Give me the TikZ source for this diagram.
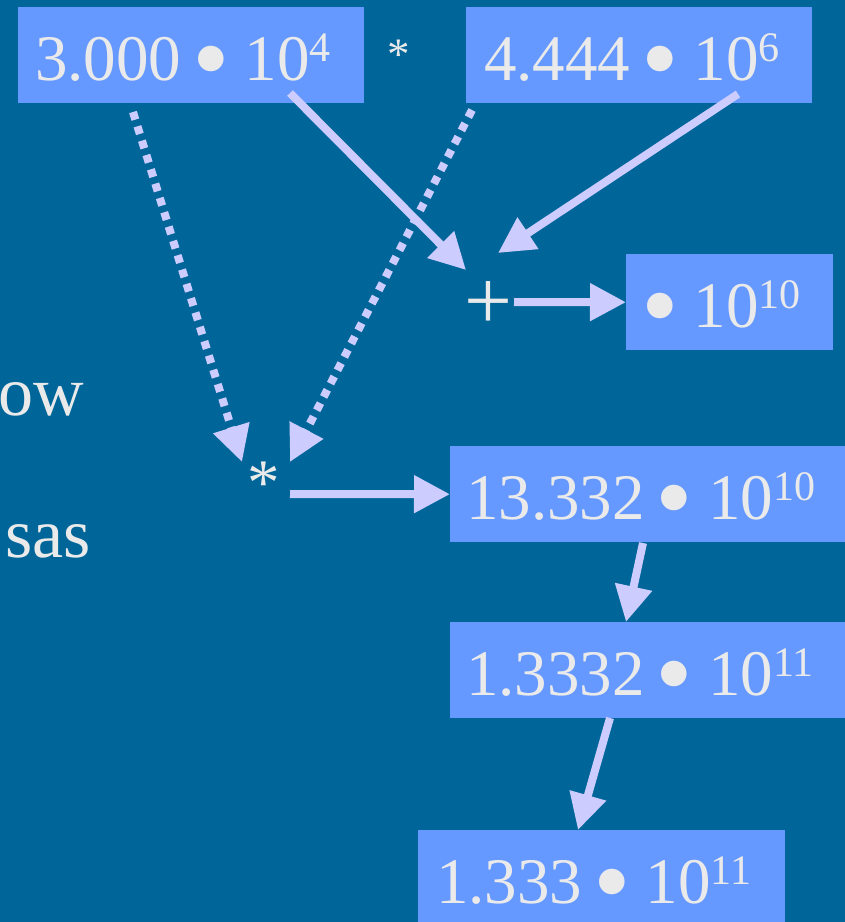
\documentclass[tikz,border=0pt]{standalone}
\usepackage{fontspec}
\setmainfont{Liberation Serif}
\usepackage{graphicx}
\usetikzlibrary{arrows.meta,calc}
\setlength{\parindent}{0pt}
\definecolor{bgc}{HTML}{006699}
\definecolor{boxc}{HTML}{6699FF}
\definecolor{txtc}{HTML}{EAEAEA}
\definecolor{arrc}{HTML}{CCCCFF}
\newcommand\bul{\makebox[59.5pt]{\raisebox{-0.22em}{\scalebox{1.65}{•}}}\hspace{4pt}}
\newcommand\sups[1]{\raisebox{19pt}{\fontsize{42}{42}\selectfont #1}}
\begin{document}
\begin{tikzpicture}[x=1pt,y=-1pt,
  numbox/.style={fill=boxc, anchor=north west, inner xsep=#1, inner ysep=0pt,
    text height=73pt, text depth=23pt, align=left,
    font=\fontsize{65}{78}\selectfont, text=txtc},
  sym/.style={anchor=base, inner sep=0pt, text=txtc, font=\fontsize{65}{78}\selectfont},
  side/.style={anchor=base east, inner sep=0pt, text=txtc, font=\fontsize{70}{84}\selectfont},
  arr/.style={draw=arrc, line width=8pt, -{Triangle[length=36pt,width=36pt]}},
  dotarr/.style={arr, dash pattern=on 8pt off 7pt}]
\useasboundingbox (0,0) rectangle (845,922);
\clip (0,0) rectangle (845,922);
\fill[bgc] (0,0) rectangle (845,922);
% side text
\node[side] (ow) at (84,415) {ow};
\node[side] (sas) at (91,557) {sas};
% number boxes
\node[numbox=17pt, text width=312pt] (A) at (18,7) {3.000\bul10\sups{4}};
\node[numbox=18pt, text width=310pt] (B) at (466,7) {4.444\bul10\sups{6}};
\node[numbox=4pt, text width=199pt] (C) at (626,254) {\bul10\sups{10}};
\node[numbox=16pt, text width=388pt] (D) at (450,446) {13.332\bul10\sups{10}};
\node[numbox=16pt, text width=388pt] (E) at (450,622) {1.3332\bul10\sups{11}};
\node[numbox=18pt, text width=331pt, text depth=19pt] (F) at (418,830) {1.333\bul10\sups{11}};
% operators
\node[sym, font=\fontsize{45}{54}\selectfont] (times1) at (399,69) {*};
\node[sym, font=\fontsize{85}{100}\selectfont] (plus) at (488,329) {+};
\node[sym] (times2) at (264,504) {*};
% connector end points
\coordinate (aS) at (290,93);
\coordinate (bS) at (738,94);
\coordinate (plusA) at (466,270);
\coordinate (plusB) at (498,253);
\coordinate (plusR) at (514,302);
\coordinate (aD) at (133,112);
\coordinate (bD) at (472,110);
\coordinate (starA) at (242,462);
\coordinate (starB) at (290,462);
\coordinate (starR) at (290,494);
\coordinate (dS) at (643,543);
\coordinate (eN) at (626,622);
\coordinate (eS) at (610,718);
\coordinate (fN) at (578,830);
% connectors
\draw[arr] (aS) -- (plusA);
\draw[arr] (bS) -- (plusB);
\draw[arr] (plusR) -- (C.west);
\draw[dotarr] (aD) -- (starA);
\draw[dotarr] (bD) -- (starB);
\draw[arr] (starR) -- (D.west);
\draw[arr] (dS) -- (eN);
\draw[arr] (eS) -- (fN);
\end{tikzpicture}
\end{document}
